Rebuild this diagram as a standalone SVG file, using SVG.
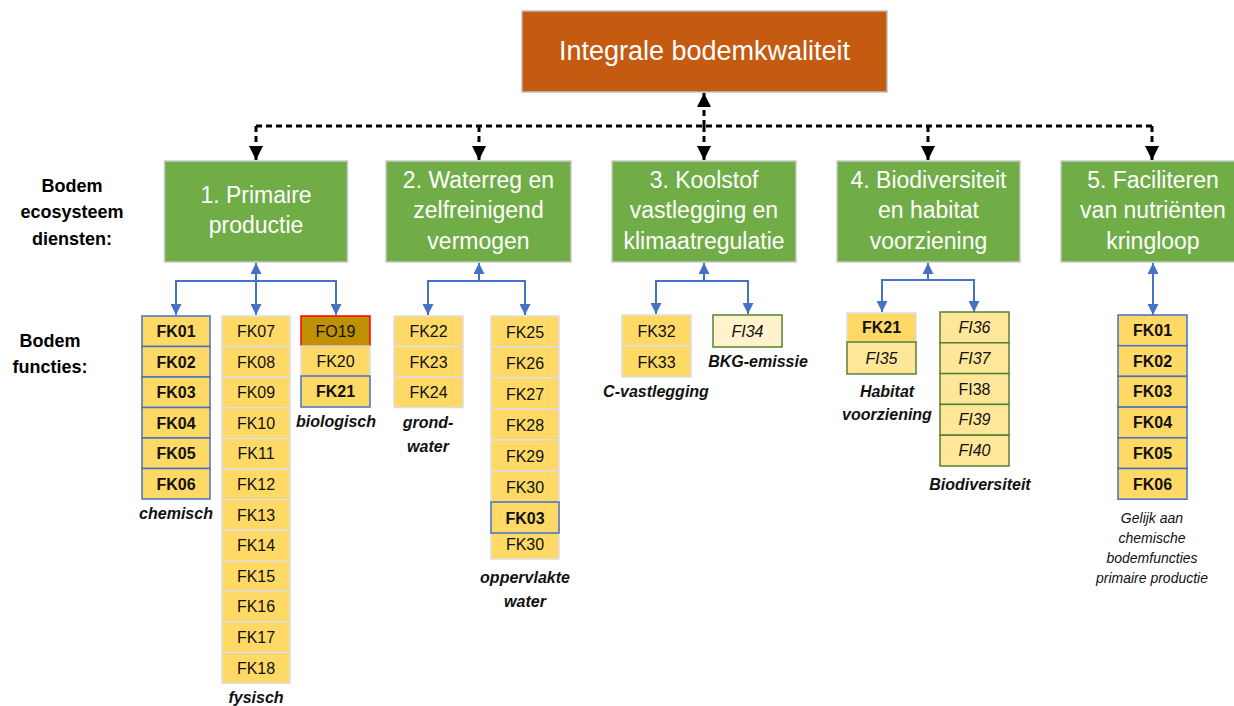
<svg xmlns="http://www.w3.org/2000/svg" width="1234" height="706" viewBox="0 0 1234 706">
<defs>
<style>
text{font-family:"Liberation Sans",Arial,sans-serif;text-anchor:middle}
.top{fill:#C55A11;stroke:#BFBFBF;stroke-width:1.5}
.topt{fill:#fff;font-size:27px}
.svc{fill:#70AD47;stroke:#C9C9C9;stroke-width:1.5}
.svct{fill:#fff;font-size:23px}
.lbl{font-size:18px;font-weight:bold;fill:#000}
.cap{font-size:16px;font-weight:bold;font-style:italic;fill:#111}
.note{font-size:14px;font-style:italic;fill:#111}
.c{font-size:16px;fill:#111}
.b{font-weight:bold;font-size:16px}
.i{font-style:italic}
.ch{fill:#FFD966;stroke:#4472C4;stroke-width:1.5}
.fy{fill:#FFD966;stroke:#DEDEDE;stroke-width:1.5}
.fo{fill:#BF9000;stroke:#FF0000;stroke-width:1.5}
.fi{fill:#FFE699;stroke:#548235;stroke-width:1.5}
.fl{fill:#FFF2CC;stroke:#548235;stroke-width:1.5}
.blue{fill:none;stroke:#4472C4;stroke-width:2}
.dash{fill:none;stroke:#000;stroke-width:3;stroke-dasharray:6 4}
</style>
<marker id="ab" viewBox="0 0 10 10" refX="10" refY="5" markerWidth="11" markerHeight="11" markerUnits="userSpaceOnUse" orient="auto"><path d="M0,0 L10,5 L0,10 z" fill="#4472C4"/></marker>
<marker id="ak" viewBox="0 0 10 10" refX="10" refY="5" markerWidth="15" markerHeight="14" markerUnits="userSpaceOnUse" orient="auto"><path d="M0,0 L10,5 L0,10 z" fill="#000"/></marker>
</defs>
<rect width="1234" height="706" fill="#fff"/>

<g id="connectors">
<path class="dash" d="M256,126 H1152"/>
<path class="dash" d="M256,126 V160" marker-end="url(#ak)"/>
<path class="dash" d="M479,126 V160" marker-end="url(#ak)"/>
<path class="dash" d="M704,126 V160" marker-end="url(#ak)"/>
<path class="dash" d="M928,126 V160" marker-end="url(#ak)"/>
<path class="dash" d="M1152,126 V160" marker-end="url(#ak)"/>
<path class="dash" d="M704,126 V93" marker-end="url(#ak)"/>
<path class="blue" d="M256,281 V263" marker-end="url(#ab)"/>
<path class="blue" d="M256,281 H176 V315" marker-end="url(#ab)"/>
<path class="blue" d="M256,281 V315" marker-end="url(#ab)"/>
<path class="blue" d="M256,281 H336 V315" marker-end="url(#ab)"/>
<path class="blue" d="M479,281 V263" marker-end="url(#ab)"/>
<path class="blue" d="M479,281 H428 V315" marker-end="url(#ab)"/>
<path class="blue" d="M479,281 H525 V315" marker-end="url(#ab)"/>
<path class="blue" d="M704,281 V263" marker-end="url(#ab)"/>
<path class="blue" d="M704,281 H656 V314" marker-end="url(#ab)"/>
<path class="blue" d="M704,281 H748 V314" marker-end="url(#ab)"/>
<path class="blue" d="M928,280 V263" marker-end="url(#ab)"/>
<path class="blue" d="M928,280 H882 V312" marker-end="url(#ab)"/>
<path class="blue" d="M928,280 H974 V312" marker-end="url(#ab)"/>
<path class="blue" d="M1153,289 V263" marker-end="url(#ab)"/>
<path class="blue" d="M1153,289 V315" marker-end="url(#ab)"/>
</g>

<g id="top">
<rect class="top" x="522" y="11" width="365" height="81"/>
<text class="topt" x="704.5" y="60">Integrale bodemkwaliteit</text>
</g>

<g id="labels">
<text class="lbl" x="72" y="192">Bodem</text>
<text class="lbl" x="72" y="218">ecosysteem</text>
<text class="lbl" x="72" y="245">diensten:</text>
<text class="lbl" x="50" y="347">Bodem</text>
<text class="lbl" x="50" y="373">functies:</text>
</g>

<g id="svc1">
<rect class="svc" x="164.5" y="161" width="183" height="101"/>
<text class="svct" x="256" y="203">1. Primaire</text>
<text class="svct" x="256" y="233">productie</text>
</g>
<g id="svc2">
<rect class="svc" x="386" y="161" width="185" height="101"/>
<text class="svct" x="478.5" y="188">2. Waterreg en</text>
<text class="svct" x="478.5" y="218">zelfreinigend</text>
<text class="svct" x="478.5" y="249">vermogen</text>
</g>
<g id="svc3">
<rect class="svc" x="612" y="161" width="184" height="101"/>
<text class="svct" x="704" y="188">3. Koolstof</text>
<text class="svct" x="704" y="218">vastlegging en</text>
<text class="svct" x="704" y="249">klimaatregulatie</text>
</g>
<g id="svc4">
<rect class="svc" x="837" y="161" width="183" height="101"/>
<text class="svct" x="928.5" y="188">4. Biodiversiteit</text>
<text class="svct" x="928.5" y="218">en habitat</text>
<text class="svct" x="928.5" y="249">voorziening</text>
</g>
<g id="svc5">
<rect class="svc" x="1061" y="161" width="184" height="101"/>
<text class="svct" x="1153" y="188">5. Faciliteren</text>
<text class="svct" x="1153" y="218">van nutriënten</text>
<text class="svct" x="1153" y="249">kringloop</text>
</g>

<g id="chemisch">
<rect class="ch" x="142" y="316" width="68" height="30.5"/><text class="c b" x="176" y="337">FK01</text>
<rect class="ch" x="142" y="346.5" width="68" height="30.5"/><text class="c b" x="176" y="367.5">FK02</text>
<rect class="ch" x="142" y="377" width="68" height="30.5"/><text class="c b" x="176" y="398">FK03</text>
<rect class="ch" x="142" y="407.5" width="68" height="30.5"/><text class="c b" x="176" y="428.5">FK04</text>
<rect class="ch" x="142" y="438" width="68" height="30.5"/><text class="c b" x="176" y="459">FK05</text>
<rect class="ch" x="142" y="468.5" width="68" height="30.5"/><text class="c b" x="176" y="489.5">FK06</text>
<text class="cap" x="176" y="519">chemisch</text>
</g>

<g id="fysisch">
<rect class="fy" x="222" y="316" width="68" height="30.6"/><text class="c" x="256" y="337">FK07</text>
<rect class="fy" x="222" y="346.6" width="68" height="30.6"/><text class="c" x="256" y="367.6">FK08</text>
<rect class="fy" x="222" y="377.2" width="68" height="30.6"/><text class="c" x="256" y="398.2">FK09</text>
<rect class="fy" x="222" y="407.8" width="68" height="30.6"/><text class="c" x="256" y="428.8">FK10</text>
<rect class="fy" x="222" y="438.4" width="68" height="30.6"/><text class="c" x="256" y="459.4">FK11</text>
<rect class="fy" x="222" y="469" width="68" height="30.6"/><text class="c" x="256" y="490">FK12</text>
<rect class="fy" x="222" y="499.6" width="68" height="30.6"/><text class="c" x="256" y="520.6">FK13</text>
<rect class="fy" x="222" y="530.2" width="68" height="30.6"/><text class="c" x="256" y="551.2">FK14</text>
<rect class="fy" x="222" y="560.8" width="68" height="30.6"/><text class="c" x="256" y="581.8">FK15</text>
<rect class="fy" x="222" y="591.4" width="68" height="30.6"/><text class="c" x="256" y="612.4">FK16</text>
<rect class="fy" x="222" y="622" width="68" height="30.6"/><text class="c" x="256" y="643">FK17</text>
<rect class="fy" x="222" y="652.6" width="68" height="30.6"/><text class="c" x="256" y="673.6">FK18</text>
<text class="cap" x="256" y="703">fysisch</text>
</g>

<g id="biologisch">
<rect class="fo" x="301" y="316" width="69" height="30"/><text class="c" x="335.5" y="337">FO19</text>
<rect class="fy" x="301" y="346" width="69" height="30"/><text class="c" x="335.5" y="367">FK20</text>
<rect class="ch" x="301" y="376" width="69" height="31"/><text class="c b" x="335.5" y="397">FK21</text>
<text class="cap" x="336" y="427">biologisch</text>
</g>

<g id="grondwater">
<rect class="fy" x="394" y="316" width="69" height="30.5"/><text class="c" x="428.5" y="337">FK22</text>
<rect class="fy" x="394" y="346.5" width="69" height="30.5"/><text class="c" x="428.5" y="367.5">FK23</text>
<rect class="fy" x="394" y="377" width="69" height="30.5"/><text class="c" x="428.5" y="398">FK24</text>
<text class="cap" x="428" y="428">grond-</text>
<text class="cap" x="428" y="452">water</text>
</g>

<g id="oppervlaktewater">
<rect class="fy" x="491" y="316" width="68" height="31"/><text class="c" x="525" y="337.5">FK25</text>
<rect class="fy" x="491" y="347" width="68" height="31"/><text class="c" x="525" y="368.5">FK26</text>
<rect class="fy" x="491" y="378" width="68" height="31"/><text class="c" x="525" y="399.5">FK27</text>
<rect class="fy" x="491" y="409" width="68" height="31"/><text class="c" x="525" y="430.5">FK28</text>
<rect class="fy" x="491" y="440" width="68" height="31"/><text class="c" x="525" y="461.5">FK29</text>
<rect class="fy" x="491" y="471" width="68" height="31"/><text class="c" x="525" y="492.5">FK30</text>
<rect class="fy" x="491" y="533" width="68" height="26"/><text class="c" x="525" y="550">FK30</text>
<rect class="ch" x="491" y="502" width="68" height="31"/><text class="c b" x="525" y="523.5">FK03</text>
<text class="cap" x="525" y="583">oppervlakte</text>
<text class="cap" x="525" y="607">water</text>
</g>

<g id="cvastlegging">
<rect class="fy" x="622" y="315" width="69" height="31"/><text class="c" x="656.5" y="336.5">FK32</text>
<rect class="fy" x="622" y="346" width="69" height="31"/><text class="c" x="656.5" y="367.5">FK33</text>
<text class="cap" x="656" y="397">C-vastlegging</text>
</g>

<g id="bkg">
<rect class="fl" x="713" y="315" width="69" height="32"/><text class="c i" x="747.5" y="337">FI34</text>
<text class="cap" x="758" y="367">BKG-emissie</text>
</g>

<g id="habitat">
<rect class="fy" x="847" y="313" width="69" height="29"/><text class="c b" x="881.5" y="333">FK21</text>
<rect class="fi" x="847" y="342" width="69" height="32"/><text class="c i" x="881.5" y="364">FI35</text>
<text class="cap" x="887" y="397">Habitat</text>
<text class="cap" x="887" y="420">voorziening</text>
</g>

<g id="biodiversiteit">
<rect class="fi" x="940" y="312" width="69" height="30.8"/><text class="c i" x="974.5" y="333">FI36</text>
<rect class="fi" x="940" y="342.8" width="69" height="30.8"/><text class="c i" x="974.5" y="363.8">FI37</text>
<rect class="fi" x="940" y="373.6" width="69" height="30.8"/><text class="c" x="974.5" y="394.6">FI38</text>
<rect class="fi" x="940" y="404.4" width="69" height="30.8"/><text class="c i" x="974.5" y="425.4">FI39</text>
<rect class="fi" x="940" y="435.2" width="69" height="30.8"/><text class="c i" x="974.5" y="456.2">FI40</text>
<text class="cap" x="980" y="490">Biodiversiteit</text>
</g>

<g id="kringloop">
<rect class="ch" x="1118" y="315" width="69" height="30.7"/><text class="c b" x="1152.5" y="336">FK01</text>
<rect class="ch" x="1118" y="345.7" width="69" height="30.7"/><text class="c b" x="1152.5" y="366.7">FK02</text>
<rect class="ch" x="1118" y="376.4" width="69" height="30.7"/><text class="c b" x="1152.5" y="397.4">FK03</text>
<rect class="ch" x="1118" y="407.1" width="69" height="30.7"/><text class="c b" x="1152.5" y="428.1">FK04</text>
<rect class="ch" x="1118" y="437.8" width="69" height="30.7"/><text class="c b" x="1152.5" y="458.8">FK05</text>
<rect class="ch" x="1118" y="468.5" width="69" height="30.7"/><text class="c b" x="1152.5" y="489.5">FK06</text>
<text class="note" x="1152" y="523">Gelijk aan</text>
<text class="note" x="1152" y="543">chemische</text>
<text class="note" x="1152" y="563">bodemfuncties</text>
<text class="note" x="1152" y="583">primaire productie</text>
</g>
</svg>
